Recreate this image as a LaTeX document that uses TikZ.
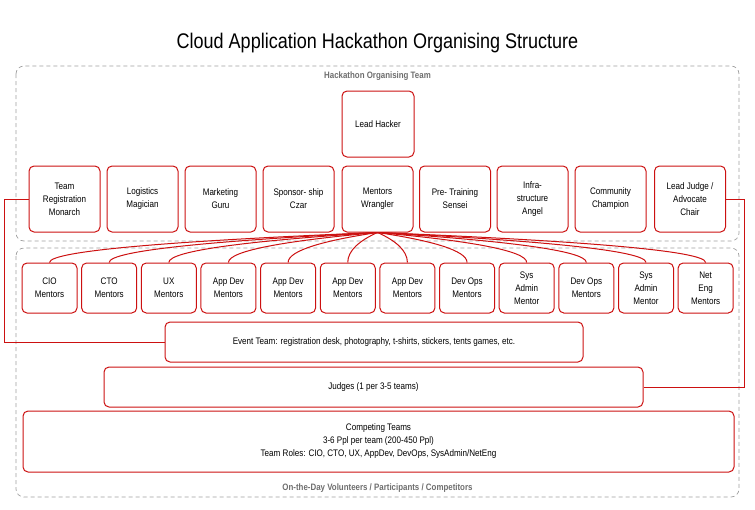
\documentclass[tikz,border=0pt]{standalone}
\usepackage{fontspec}
\setmainfont[FakeStretch=0.85]{Liberation Sans}
\usepackage{tikz}
\usetikzlibrary{calc}

\definecolor{boxred}{RGB}{204,17,17}
\definecolor{dashgray}{RGB}{160,160,160}
\definecolor{labelgray}{RGB}{110,110,110}

\tikzset{
  rolebox/.style={draw=boxred, line width=1pt, rounded corners=5pt, fill=white,
    align=center, font=\fontsize{9.5}{13}\selectfont, inner sep=1pt},
  teambox/.style={draw=dashgray, line width=0.7pt, dash pattern=on 4pt off 3pt, rounded corners=8pt},
  grouplabel/.style={font=\fontsize{9.3}{10}\selectfont\bfseries, text=labelgray},
  link/.style={draw=boxred, line width=1pt},
}

\begin{document}
\begin{tikzpicture}[x=1pt,y=-1pt]
        \useasboundingbox (0,0) rectangle (755,509);

        % Title
        \node [font=\fontsize{21.2}{24}\selectfont] (title) at (377.5,43) {Cloud Application Hackathon Organising Structure};

        %Shape: Dashed Rect (organising team)
        \draw [teambox] (16,66) rectangle (739,241);
        %Shape: Dashed Rect (on the day)
        \draw [teambox] (16,248) rectangle (739,497);
        % Text Node
        \node [grouplabel] (orglabel) at (377.5,76) {Hackathon Organising Team};
        % Text Node
        \node [grouplabel] (daylabel) at (377.5,488) {On-the-Day Volunteers / Participants / Competitors};

        %Shape: Rounded Rect
        \node [rolebox, minimum width=72pt, minimum height=66pt] (lead) at (378,124) {Lead Hacker};

        %Shape: Rounded Rect (organiser row)
        \node [rolebox, minimum width=71pt, minimum height=66pt] (treg) at (64.5,199) {Team\\Registration\\Monarch};
        \node [rolebox, minimum width=71pt, minimum height=66pt] (logist) at (142.5,199) {Logistics\\Magician};
        \node [rolebox, minimum width=71pt, minimum height=66pt] (market) at (220.5,199) {Marketing\\Guru};
        \node [rolebox, minimum width=71pt, minimum height=66pt] (sponsor) at (298.5,199) {Sponsor- ship\\Czar};
        \node [rolebox, minimum width=71pt, minimum height=66pt] (wrangler) at (377.5,199) {Mentors\\Wrangler};
        \node [rolebox, minimum width=71pt, minimum height=66pt] (pretrain) at (455,199) {Pre- Training\\Sensei};
        \node [rolebox, minimum width=71pt, minimum height=66pt] (infra) at (532.5,199) {Infra-\\structure\\Angel};
        \node [rolebox, minimum width=71pt, minimum height=66pt] (commun) at (610.5,199) {Community\\Champion};
        \node [rolebox, minimum width=71pt, minimum height=66pt] (ljudge) at (690,199) {Lead Judge /\\Advocate\\Chair};

        %Shape: Rounded Rect (mentor row)
        \foreach \name [count=\i] in {CIO\\Mentors, CTO\\Mentors, UX\\Mentors, App Dev\\Mentors, App Dev\\Mentors,
            App Dev\\Mentors, App Dev\\Mentors, Dev Ops\\Mentors, Sys\\Admin\\Mentor, Dev Ops\\Mentors,
            Sys\\Admin\\Mentor, Net\\Eng\\Mentors}
          \node [rolebox, minimum width=55pt, minimum height=50pt] (m\i) at ({49.5+59.65*(\i-1)},288) {\name};

        %Shape: Rounded Rect (wide boxes)
        \node [rolebox, minimum width=418pt, minimum height=40pt] (event) at (374,342)
          {Event Team: registration desk, photography, t-shirts, stickers, tents games, etc.};
        \node [rolebox, minimum width=539pt, minimum height=40pt] (judges) at (373.5,387) {Judges (1 per 3-5 teams)};
        \node [rolebox, minimum width=711pt, minimum height=61pt] (compete) at (378.5,441.5)
          {Competing Teams\\3-6 Ppl per team (200-450 Ppl)\\Team Roles: CIO, CTO, UX, AppDev, DevOps, SysAdmin/NetEng};

        %Curve Lines (wrangler fan)
        \foreach \i in {1,...,12}
          \draw [link] (wrangler.south) .. controls ($(wrangler.south)!0.6!(m\i.north |- wrangler.south)+(0,8)$)
            and ($(m\i.north)+(0,-12)$) .. (m\i.north);

        %Straight Lines (elbows)
        \coordinate (leftrail) at (4,0);
        \coordinate (rightrail) at (744,0);
        \draw [link] (treg.west) -| (leftrail |- event.west) -- (event.west);
        \draw [link] (ljudge.east) -| (rightrail |- judges.east) -- (judges.east);
\end{tikzpicture}
\end{document}
